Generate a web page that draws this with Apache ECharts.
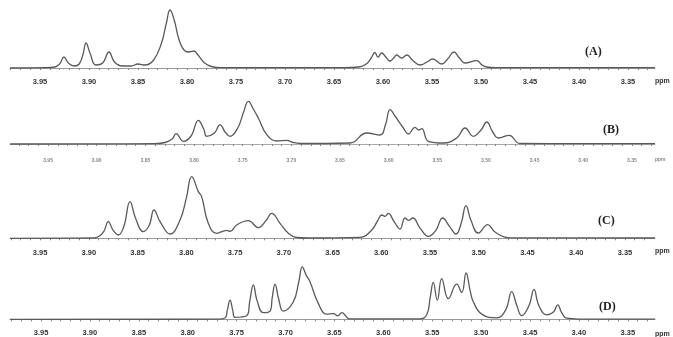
<!DOCTYPE html>
<html>
<head>
<meta charset="utf-8">
<script src="https://cdn.jsdelivr.net/npm/echarts@6/dist/echarts.min.js"></script>
<style>
  html, body { margin: 0; padding: 0; background: #fff; }
  #chart { width: 673px; height: 337px; }
</style>
</head>
<body>
<div id="chart"></div>
<script>
// tick labels shared by all four panels (ppm)
var tickLabels = [3.95, 3.90, 3.85, 3.80, 3.75, 3.70, 3.65, 3.60, 3.55, 3.50, 3.45, 3.40, 3.35];
var panelNames = ['(A)', '(B)', '(C)', '(D)'];

// spectrum A: chemical shift (ppm) and intensity
var ppmA = [3.9806, 3.945, 3.935, 3.930, 3.9255, 3.921, 3.915, 3.910, 3.906, 3.903, 3.899, 3.893, 3.886, 3.8796, 3.874, 3.866, 3.857, 3.850, 3.843, 3.834, 3.826, 3.821, 3.8173, 3.813, 3.808, 3.802, 3.798, 3.793, 3.788, 3.782, 3.775, 3.765,
  3.640, 3.625, 3.617, 3.612, 3.6082, 3.6051, 3.6013, 3.597, 3.5929, 3.589, 3.586, 3.5809, 3.5755, 3.570, 3.5622, 3.555, 3.5493, 3.5401, 3.534, 3.5276, 3.522, 3.5163, 3.5044, 3.499, 3.4942, 3.485, 3.3224];
var intA = [0, 0.3, 1, 4, 11, 5, 2, 4, 14, 25, 15, 3, 5, 16, 6, 2, 2, 4, 3, 8, 25, 45, 58, 48, 28, 17, 16, 17, 12, 5, 1.5, 0.3,
  0.3, 1, 4, 10, 15.5, 11, 15, 11, 7, 10, 13, 10, 13, 8, 3, 6, 9, 4, 9, 16, 10, 5, 7.3, 3, 1, 0.3, 0.3];

// spectrum B
var ppmB = [3.9891, 3.840, 3.8298, 3.8225, 3.8184, 3.8109, 3.803, 3.7955, 3.790, 3.7869, 3.779, 3.7732, 3.768, 3.763, 3.755, 3.749, 3.7441, 3.739, 3.7339, 3.7252, 3.715, 3.7047, 3.698, 3.691,
  3.6396, 3.6225, 3.6088, 3.603, 3.5985, 3.5934, 3.5848, 3.5797, 3.5728, 3.569, 3.5659, 3.5591, 3.5437, 3.530, 3.5214, 3.5129, 3.505, 3.4991, 3.493, 3.4872, 3.4759, 3.4649, 3.3262];
var intB = [0, 0.3, 1.5, 5, 10.3, 2.7, 8, 23.7, 15, 7.7, 11, 19.3, 12, 7.7, 16, 32, 42.7, 35, 26, 9.3, 3, 3.7, 1.5, 0.5,
  1, 11, 9, 20, 34.3, 28, 16, 10, 16.7, 14, 15.3, 2.7, 1, 6, 16, 7.7, 14, 22, 12, 6, 8.7, 0.5, 0.3];

// spectrum C
var ppmC = [3.9808, 3.895, 3.8902, 3.8845, 3.880, 3.875, 3.8697, 3.864, 3.8577, 3.852, 3.844, 3.838, 3.8331, 3.8269, 3.8167, 3.8064, 3.800, 3.7944, 3.7876, 3.7842, 3.7774, 3.7688, 3.7585, 3.755, 3.7483, 3.7364, 3.7261, 3.718, 3.7124, 3.7038, 3.6953, 3.6867, 3.675,
  3.6218, 3.610, 3.6035, 3.5995, 3.5962, 3.5928, 3.587, 3.5808, 3.5756, 3.5717, 3.5677, 3.560, 3.5517, 3.544, 3.537, 3.530, 3.5233, 3.518, 3.5131, 3.508, 3.5005, 3.4908, 3.483, 3.4679, 3.3192];
var intC = [0, 0.3, 1.5, 7, 16.7, 8, 3.3, 12, 36.7, 20, 6.7, 13, 28.3, 16.7, 4.3, 18.3, 40, 61.7, 46.7, 41.7, 15, 5, 8, 7, 13.3, 17.7, 10.7, 18, 25, 15, 5, 0.8, 0.3,
  1, 8, 18, 23.3, 22, 25, 17, 9.3, 20.3, 18, 20.3, 10, 2, 8, 20.3, 12, 4.3, 15, 32.7, 18, 5.3, 13.7, 6, 0.5, 0.3];

// spectrum D
var ppmD = [3.9817, 3.770, 3.7619, 3.7595, 3.7567, 3.754, 3.7516, 3.7397, 3.7365, 3.7329, 3.729, 3.7227, 3.7158, 3.7135, 3.7107, 3.707, 3.7022, 3.692, 3.6865, 3.6828, 3.679, 3.675, 3.6665, 3.6579, 3.6511, 3.6465, 3.6425, 3.634,
  3.5625, 3.5556, 3.552, 3.5489, 3.5448, 3.5403, 3.5335, 3.525, 3.5198, 3.5154, 3.511, 3.508, 3.4994, 3.4841, 3.475, 3.4687, 3.4635, 3.4585, 3.451, 3.4459, 3.441, 3.433, 3.426, 3.4217, 3.4175, 3.4125, 3.400, 3.3222];
var intD = [0, 0.3, 1.5, 10, 20.7, 10, 2.3, 4, 20, 37.3, 20, 7.3, 9, 24, 38, 22, 9, 19, 40, 56.7, 48, 40.7, 17.3, 5.7, 6.3, 4, 7.3, 0.5,
  0.5, 5, 24, 40, 20.7, 44, 22.3, 38, 29, 50, 30, 19, 5.7, 1.7, 10, 30, 15, 4, 15, 32.3, 15, 5, 8, 15.7, 7, 1.3, 0.4, 0.3];

function pairs(xs, ys) {
  return xs.map(function (x, i) { return [x, ys[i]]; });
}

var minorTicks = [];
for (var t = 333; t <= 398; t++) minorTicks.push(t / 100);

var chart = echarts.init(document.getElementById('chart'));

// panel frames: top, axis y, ppm at both edges, y range
var panels = [
  { top: 8, bottom: 74, max: 3.9806, min: 3.3224, ymin: -6, ymax: 60 },
  { top: 95, bottom: 154, max: 3.9891, min: 3.3262, ymin: -10, ymax: 49 },
  { top: 170, bottom: 245, max: 3.9808, min: 3.3192, ymin: -6.7, ymax: 68.3 },
  { top: 260, bottom: 330, max: 3.9817, min: 3.3222, ymin: -6, ymax: 64 }
];
var spectra = [pairs(ppmA, intA), pairs(ppmB, intB), pairs(ppmC, intC), pairs(ppmD, intD)];

var grids = [], xAxes = [], yAxes = [], series = [], graphics = [];
panels.forEach(function (p, i) {
  var tiny = (i === 1);
  grids.push({ left: 10, width: 645, top: p.top, height: p.bottom - p.top });
  xAxes.push({
    gridIndex: i,
    type: 'value',
    inverse: true,
    min: p.min,
    max: p.max,
    splitLine: { show: false },
    axisLine: { lineStyle: { color: tiny ? '#aaa' : '#999', width: 1 } },
    axisTick: { customValues: minorTicks, length: 2, lineStyle: { color: '#888' } },
    axisLabel: {
      customValues: tickLabels,
      formatter: function (v) { return v.toFixed(2); },
      fontFamily: 'Liberation Sans, Arial',
      fontWeight: 'bold',
      fontSize: tiny ? 5 : 7.5,
      color: tiny ? '#888' : '#333',
      margin: 4
    }
  });
  yAxes.push({ gridIndex: i, type: 'value', min: p.ymin, max: p.ymax, show: false });
  series.push({
    type: 'line',
    xAxisIndex: i,
    yAxisIndex: i,
    data: spectra[i],
    smooth: 0.45,
    symbol: 'none',
    lineStyle: { color: '#5a5a5a', width: 1.3 }
  });
});

var nameY = [53, 131, 222, 308];
var nameX = [585, 603, 598, 599];
var ppmY = [82, 160, 252, 335];
panelNames.forEach(function (n, i) {
  graphics.push({
    type: 'text', left: nameX[i], top: nameY[i] - 7,
    style: { text: n, font: 'bold 12px "Liberation Serif", serif', fill: '#222' }
  });
  graphics.push({
    type: 'text', left: 655, top: ppmY[i] - (i === 1 ? 3 : 4),
    style: { text: 'ppm', font: (i === 1 ? 'bold 5px' : 'bold 7px') + ' "Liberation Sans", Arial', fill: i === 1 ? '#888' : '#333' }
  });
});

chart.setOption({
  animation: false,
  backgroundColor: '#fff',
  grid: grids,
  xAxis: xAxes,
  yAxis: yAxes,
  series: series,
  graphic: graphics
});
</script>
</body>
</html>
